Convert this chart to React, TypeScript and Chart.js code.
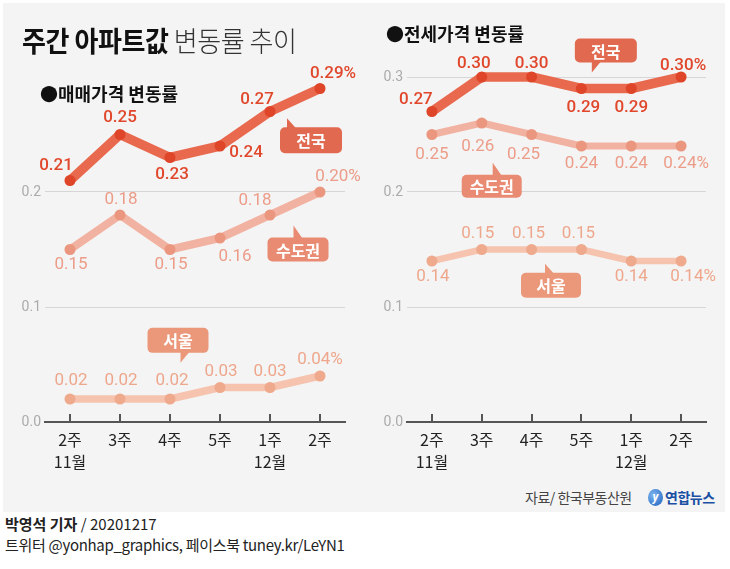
import React, { useEffect, useRef } from 'react';
import { Chart, registerables } from 'chart.js';

Chart.register(...registerables);

// ---------- data ----------
const weeks: (string | string[])[] = [['2주', '11월'], '3주', '4주', '5주', ['1주', '12월'], '2주'];
const seriesNames = ['전국', '수도권', '서울'];
const saleNational = [0.21, 0.25, 0.23, 0.24, 0.27, 0.29];
const saleCapital = [0.15, 0.18, 0.15, 0.16, 0.18, 0.2];
const saleSeoul = [0.02, 0.02, 0.02, 0.03, 0.03, 0.04];
const rentNational = [0.27, 0.3, 0.3, 0.29, 0.29, 0.3];
const rentCapital = [0.25, 0.26, 0.25, 0.24, 0.24, 0.24];
const rentSeoul = [0.14, 0.15, 0.15, 0.15, 0.14, 0.14];
const yTicks = [0, 0.1, 0.2, 0.3];

// ---------- styles ----------
const KR = "'Noto Sans CJK KR', 'Noto Sans', sans-serif";
const NUM = "Roboto, 'Liberation Sans', sans-serif";
const lineColors = ['#e8694e', '#f2b2a1', '#f5c3ae'];
const pointColors = ['#df4528', '#eb977f', '#efa98c'];
const labelColors = ['#e0472b', '#ec9c88', '#eea78c'];
const labelWeights = [500, 400, 400];
const boxColors = ['#e1694f', '#e98a72', '#eb977a'];

// label offsets relative to each point (dx, dy)
const saleOffsets = [
  [[-14, -15], [0, -17], [2, 17], [26, 7], [-13, -12], [13, -15]],
  [[1, 15], [1, -15], [1, 15], [15, 19], [-15, -14], [18, -15]],
  [[1, -18], [1, -18], [2, -18], [1, -16], [0, -16], [0, -16]],
];
const rentOffsets = [
  [[-16, -12], [-8, -13], [0, -13], [2, 19], [0, 19], [2, -11]],
  [[0, 20], [-4, 24], [-8, 20], [0, 18], [0, 18], [5, 18]],
  [[1, 16], [-4, -16], [-3, -16], [-3, -16], [0, 16], [12, 16]],
];

// callouts: position in data coordinates (category index, value)
const saleCallouts = [
  { s: 0, x: 4.82, y: 0.245, w: 62, h: 26, dir: 'up', tail: 7, len: 9 },
  { s: 1, x: 4.56, y: 0.15, w: 61, h: 24, dir: 'up', tail: 26, len: 12 },
  { s: 2, x: 2.16, y: 0.071, w: 61, h: 25, dir: 'down', tail: 33, len: 10 },
];
const rentCallouts = [
  { s: 0, x: 3.49, y: 0.323, w: 62, h: 24, dir: 'down', tail: 17, len: 10 },
  { s: 1, x: 1.2, y: 0.205, w: 60, h: 23, dir: 'up', tail: 31, len: 12 },
  { s: 2, x: 2.39, y: 0.119, w: 60, h: 25, dir: 'up', tail: 24, len: 9 },
];

function overlayPlugin(key: string, offsets: number[][][], callouts: any[]) {
  return {
    id: 'overlay' + key,
    afterDatasetsDraw(chart: any) {
      const ctx = chart.ctx;
      const xs = chart.scales.x;
      const ys = chart.scales.y;
      const area = chart.chartArea;
      ctx.save();
      // tick marks pointing up from the axis
      ctx.strokeStyle = '#555';
      ctx.lineWidth = 2;
      for (let i = 0; i < weeks.length; i++) {
        const x = Math.round(xs.getPixelForValue(i));
        ctx.beginPath();
        ctx.moveTo(x, area.bottom - 8);
        ctx.lineTo(x, area.bottom);
        ctx.stroke();
      }
      // value labels
      ctx.textAlign = 'center';
      ctx.textBaseline = 'middle';
      chart.data.datasets.forEach((ds: any, di: number) => {
        const meta = chart.getDatasetMeta(di);
        ctx.fillStyle = labelColors[di];
        ctx.font = `${labelWeights[di]} 17px ${NUM}`;
        meta.data.forEach((pt: any, i: number) => {
          const v = ds.data[i] as number;
          const [dx, dy] = offsets[di][i];
          const txt = v.toFixed(2) + (i === ds.data.length - 1 ? '%' : '');
          ctx.fillText(txt, pt.x + dx, pt.y + dy);
        });
      });
      // callouts
      callouts.forEach((c) => {
        const cx = xs.getPixelForValue(c.x);
        const cy = ys.getPixelForValue(c.y);
        const left = cx - c.w / 2;
        const top = cy - c.h / 2;
        ctx.fillStyle = boxColors[c.s];
        ctx.beginPath();
        ctx.roundRect(left, top, c.w, c.h, 5);
        ctx.fill();
        const px = left + c.tail;
        ctx.beginPath();
        if (c.dir === 'up') {
          ctx.moveTo(px, top + 1);
          ctx.lineTo(px, top - c.len);
          ctx.lineTo(px + 9, top + 1);
        } else {
          ctx.moveTo(px, top + c.h - 1);
          ctx.lineTo(px, top + c.h + c.len);
          ctx.lineTo(px + 9, top + c.h - 1);
        }
        ctx.closePath();
        ctx.fill();
        ctx.fillStyle = '#fff';
        ctx.font = `bold 16px ${KR}`;
        ctx.fillText(seriesNames[c.s], cx, cy + 1);
      });
      ctx.restore();
    },
  };
}

function makeConfig(
  key: string,
  series: number[][],
  widths: number[],
  yWidth: number,
  padRight: number,
  hideTop: boolean,
  offsets: number[][][],
  callouts: any[]
): any {
  return {
    type: 'line',
    data: {
      labels: weeks,
      datasets: series.map((d, i) => ({
        label: seriesNames[i],
        data: d,
        borderColor: lineColors[i],
        backgroundColor: lineColors[i],
        borderWidth: widths[i],
        borderJoinStyle: 'round',
        borderCapStyle: 'round',
        pointRadius: 5.5,
        pointHoverRadius: 5.5,
        pointBackgroundColor: pointColors[i],
        pointBorderWidth: 0,
        tension: 0,
        clip: false,
        fill: false,
      })),
    },
    options: {
      responsive: false,
      animation: false,
      events: [],
      layout: { padding: { left: 0, right: padRight, top: 77, bottom: 0 } },
      plugins: { legend: { display: false }, tooltip: { enabled: false }, title: { display: false } },
      scales: {
        x: {
          type: 'category',
          offset: true,
          grid: { drawOnChartArea: false, drawTicks: false, color: 'transparent' },
          border: { display: true, color: '#555', width: 2 },
          ticks: {
            autoSkip: false,
            maxRotation: 0,
            padding: 7,
            color: '#222',
            font: { family: KR, size: 16, lineHeight: 1.375 },
          },
          afterFit: (s: any) => {
            s.height = 58;
          },
        },
        y: {
          min: 0,
          max: 0.3,
          afterBuildTicks: (s: any) => {
            s.ticks = yTicks.map((v) => ({ value: v }));
          },
          afterFit: (s: any) => {
            s.width = yWidth;
          },
          border: { display: false },
          grid: {
            drawTicks: false,
            lineWidth: 1,
            color: (c: any) =>
              c.tick && (c.tick.value === 0 || (hideTop && c.tick.value >= 0.29)) ? 'transparent' : '#d6d6d6',
          },
          ticks: {
            padding: 4,
            color: '#ababab',
            font: { family: NUM, size: 14 },
            callback: (v: any) => (hideTop && v >= 0.29 ? '' : Number(v).toFixed(1)),
          },
        },
      },
    },
    plugins: [overlayPlugin(key, offsets, callouts)],
  };
}

export default function App() {
  const leftRef = useRef<HTMLCanvasElement>(null);
  const rightRef = useRef<HTMLCanvasElement>(null);

  useEffect(() => {
    const c1 = new Chart(
      leftRef.current as HTMLCanvasElement,
      makeConfig('L', [saleNational, saleCapital, saleSeoul], [9.5, 8, 7.5], 45, 20, true, saleOffsets, saleCallouts)
    );
    const c2 = new Chart(
      rightRef.current as HTMLCanvasElement,
      makeConfig('R', [rentNational, rentCapital, rentSeoul], [9.5, 7, 6.5], 42, 24, false, rentOffsets, rentCallouts)
    );
    return () => {
      c1.destroy();
      c2.destroy();
    };
  }, []);

  return (
    <div style={{ position: 'absolute', left: 0, top: 0, width: 730, height: 569, background: '#fff', overflow: 'hidden', fontFamily: KR }}>
      <div style={{ position: 'absolute', left: 3, top: 3, width: 722, height: 509, background: '#f4f4f4' }} />
      <canvas ref={leftRef} width={365} height={480} style={{ position: 'absolute', left: 0, top: 0, width: 365, height: 480 }} />
      <canvas ref={rightRef} width={365} height={480} style={{ position: 'absolute', left: 365, top: 0, width: 365, height: 480 }} />
      <div
        style={{
          position: 'absolute', left: 22, top: 25, fontSize: 28, lineHeight: '30px', whiteSpace: 'nowrap',
          color: '#111', transform: 'scaleX(0.93)', transformOrigin: 'left center', letterSpacing: -0.5,
        }}
      >
        <span style={{ fontWeight: 700 }}>주간 아파트값</span>{' '}
        <span style={{ fontWeight: 300, color: '#333' }}>변동률 추이</span>
      </div>
      <div style={{ position: 'absolute', left: 40, top: 83, fontSize: 18, lineHeight: '20px', fontWeight: 700, color: '#111', whiteSpace: 'nowrap' }}>
        ●매매가격 변동률
      </div>
      <div style={{ position: 'absolute', left: 386, top: 23, fontSize: 18, lineHeight: '20px', fontWeight: 700, color: '#111', whiteSpace: 'nowrap' }}>
        ●전세가격 변동률
      </div>
      <div style={{ position: 'absolute', left: 525, top: 488, fontSize: 14, lineHeight: '18px', color: '#444', whiteSpace: 'nowrap', letterSpacing: -0.5 }}>
        자료/ 한국부동산원
      </div>
      <div style={{ position: 'absolute', left: 648, top: 488, height: 18, display: 'flex', alignItems: 'center', whiteSpace: 'nowrap' }}>
        <div
          style={{
            width: 15, height: 17, borderRadius: '50%', background: 'radial-gradient(circle at 35% 35%, #7fb6ef, #1a5fc0)',
            color: '#fff', fontSize: 12, fontStyle: 'italic', fontWeight: 700, lineHeight: '17px', textAlign: 'center', fontFamily: NUM,
          }}
        >
          y
        </div>
        <span style={{ marginLeft: 2, fontSize: 14, fontWeight: 700, color: '#1b4fa3', letterSpacing: -0.5 }}>연합뉴스</span>
      </div>
      <div style={{ position: 'absolute', left: 5, top: 515, fontSize: 15, lineHeight: '18px', color: '#222', whiteSpace: 'nowrap' }}>
        <span style={{ fontWeight: 700 }}>박영석 기자</span> / 20201217
      </div>
      <div style={{ position: 'absolute', left: 5, top: 536, fontSize: 15, lineHeight: '18px', color: '#222', whiteSpace: 'nowrap', letterSpacing: -0.3 }}>
        트위터 @yonhap_graphics, 페이스북 tuney.kr/LeYN1
      </div>
    </div>
  );
}
